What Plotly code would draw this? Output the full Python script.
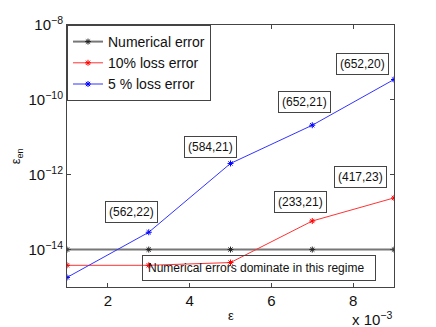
import plotly.graph_objects as go
import math

eps = [1, 3, 5, 7, 9]  # x 10^-3
numerical_err = [1e-14, 1e-14, 1e-14, 1e-14, 1e-14]
loss10_err = [3.8e-15, 3.8e-15, 4.5e-15, 5.8e-14, 2.4e-13]
loss5_err = [1.8e-15, 2.9e-14, 2.0e-12, 2.1e-11, 3.5e-10]

box_labels = ["(562,22)", "(584,21)", "(652,21)", "(652,20)", "(233,21)", "(417,23)"]
box_x = [2.59, 4.50, 6.82, 8.22, 6.72, 8.17]
box_y = [1.0e-13, 5.4e-12, 8.7e-11, 8.9e-10, 1.9e-13, 8.5e-13]

ytick_vals = [1e-14, 1e-12, 1e-10, 1e-8]
ytick_text = ["10<sup>\u221214</sup>", "10<sup>\u221212</sup>", "10<sup>\u221210</sup>", "10<sup>\u22128</sup>"]
xtick_vals = [2, 4, 6, 8]

font = "Liberation Sans, Arial, sans-serif"

fig = go.Figure()
fig.add_trace(go.Scatter(x=eps, y=numerical_err, mode="lines+markers", name="Numerical error",
                         line=dict(color="#777777", width=2),
                         marker=dict(symbol="asterisk", size=5, color="#222222", line=dict(width=1, color="#222222"))))
fig.add_trace(go.Scatter(x=eps, y=loss10_err, mode="lines+markers", name="10% loss error",
                         line=dict(color="#ff3333", width=1),
                         marker=dict(symbol="asterisk", size=5, color="red", line=dict(width=1, color="red"))))
fig.add_trace(go.Scatter(x=eps, y=loss5_err, mode="lines+markers", name="5 % loss error",
                         line=dict(color="#3333ff", width=1),
                         marker=dict(symbol="asterisk", size=5, color="blue", line=dict(width=1, color="blue"))))

for t, bx, by in zip(box_labels, box_x, box_y):
    fig.add_annotation(x=bx, y=math.log10(by), xref="x", yref="y", text=t, showarrow=False,
                       font=dict(family=font, size=12, color="#111"),
                       bordercolor="#444", borderwidth=1, borderpad=3, bgcolor="white")

fig.add_annotation(x=2.83, y=math.log10(3.25e-15), xref="x", yref="y", xanchor="left",
                   text="Numerical errors dominate in this regime", showarrow=False,
                   font=dict(family=font, size=12, color="#111"), align="left",
                   bordercolor="#444", borderwidth=1, borderpad=5, width=222)

fig.add_annotation(x=1, y=0, xref="paper", yref="paper", xanchor="right", yanchor="top",
                   yshift=-20, text="x 10<sup>\u22123</sup>", showarrow=False,
                   font=dict(family=font, size=15, color="#111"))

fig.add_annotation(x=-0.155, y=0.5, xref="paper", yref="paper", xanchor="center", yanchor="middle",
                   text="\u03b5<sub>en</sub>", textangle=-90, showarrow=False,
                   font=dict(family=font, size=13, color="#111"))

fig.add_annotation(x=0.5, y=0, xref="paper", yref="paper", xanchor="center", yanchor="top",
                   yshift=-19, text="\u03b5", showarrow=False,
                   font=dict(family=font, size=13, color="#111"))

fig.update_layout(
    width=436, height=327,
    margin=dict(l=67, r=42, t=25, b=40),
    paper_bgcolor="white", plot_bgcolor="white",
    font=dict(family=font, color="#111"),
    showlegend=True,
    legend=dict(x=0, y=1, xanchor="left", yanchor="top", bgcolor="white",
                bordercolor="#444", borderwidth=1, font=dict(size=14),
                tracegroupgap=0, itemwidth=30),
)
fig.update_xaxes(range=[1, 9], tickvals=xtick_vals, ticks="inside", ticklen=4, mirror="ticks",
                 showline=True, linecolor="#444", linewidth=1, showgrid=False, zeroline=False,
                 automargin=False, tickfont=dict(size=15))
fig.update_yaxes(type="log", range=[-15, -8], tickvals=ytick_vals, ticktext=ytick_text,
                 ticks="inside", ticklen=4, mirror="ticks", showline=True, linecolor="#444", linewidth=1,
                 showgrid=False, zeroline=False, tickfont=dict(size=15), automargin=False)

fig.write_html("out.html", config={"displayModeBar": False},
               post_script="document.body.style.margin='0';document.body.style.overflow='hidden';")
